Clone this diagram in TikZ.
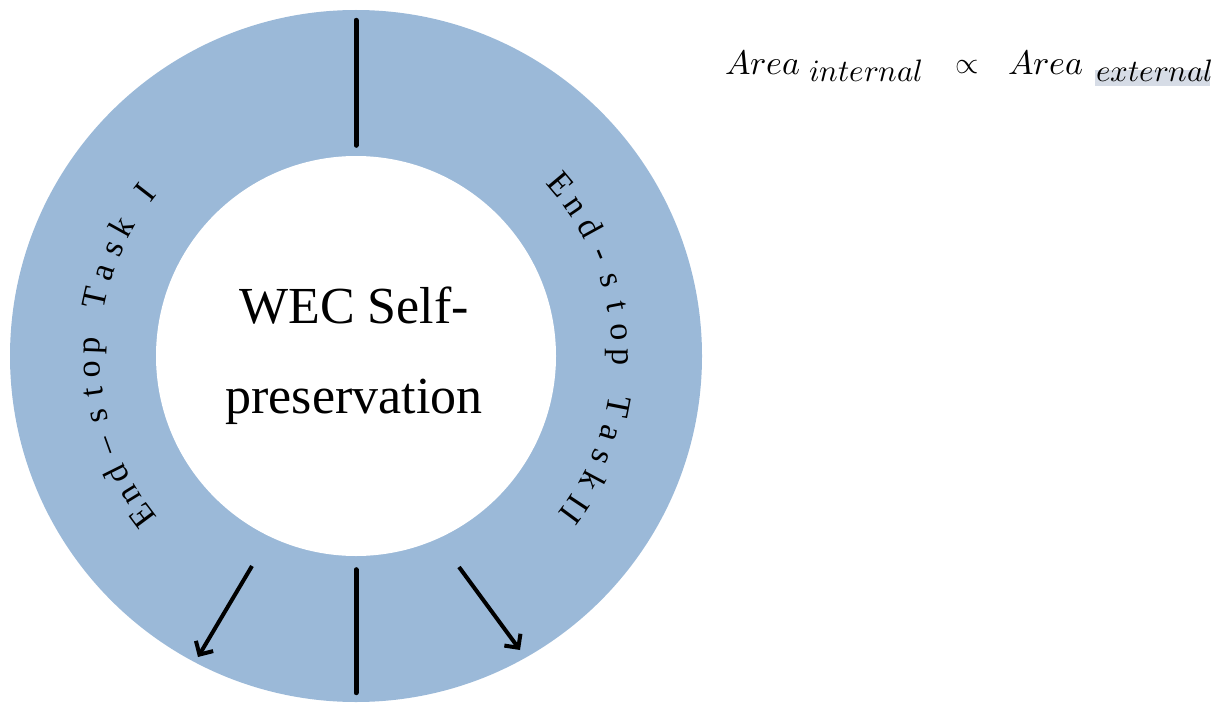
\documentclass[tikz,border=0pt]{standalone}
\usepackage{fontspec}
\usepackage{unicode-math}
\setmainfont{Liberation Serif}
\usetikzlibrary{arrows.meta}
\definecolor{ringblue}{RGB}{155,185,216}
\definecolor{hlgray}{RGB}{214,220,230}
\begin{document}
\begin{tikzpicture}[x=1pt,y=1pt,
  divider/.style={line width=5pt, line cap=round},
  outarrow/.style={line width=4pt, -{Straight Barb[length=10pt,width=20pt]}},
  ringchar/.style={anchor=base, inner sep=0pt, font=\fontsize{34}{36}\selectfont},
  eqbig/.style={anchor=base west, inner sep=0pt, font=\fontsize{34}{40}\selectfont},
  eqsub/.style={anchor=base west, inner sep=0pt, font=\fontsize{31}{36}\selectfont},
  centertext/.style={anchor=base, inner sep=0pt, font=\fontsize{52}{60}\selectfont}
]
\useasboundingbox (0,0) rectangle (1225,-706);
\coordinate (c) at (356,-356);

% ring: outer disc with the inner disc cut out in white
\node[circle, fill=ringblue, minimum size=692pt, inner sep=0pt] (outer) at (c) {};
\node[circle, fill=white, minimum size=400pt, inner sep=0pt] (inner) at (c) {};

% dividers between the two end-stop tasks
\draw[divider, shorten <=10.5pt, shorten >=10.5pt] (outer.north) -- (inner.north);
\draw[divider, shorten <=13.5pt, shorten >=9.5pt] (inner.south) -- (outer.south);

% outward arrows
\coordinate (la0) at (252,-566);
\coordinate (la1) at (198,-657);
\coordinate (ra0) at (459,-567);
\coordinate (ra1) at (520,-650);
\draw[outarrow] (la0) -- (la1);
\draw[outarrow] (ra0) -- (ra1);

% curved labels on the ring, one letter at a time, tops facing outwards
\foreach \ch/\ang [count=\i] in {E/216.8, n/211.6, d/206.5, –/199.8, s/193.2,
    t/187.8, o/183, p/177.8, T/167.5, a/161.6, s/156.2, k/151, I/142.2}
  \node[ringchar, rotate=\ang-90] (left\i) at ([shift={(\ang:256)}]c) {\ch};
\foreach \ch/\ang [count=\i] in {E/40, n/34.5, d/28.8, -/22.6, s/16.6, t/10.8,
    o/5.2, p/-0.3, T/-11, a/-17, s/-22.5, k/-28, I/-33.4, I/-36.6}
  \node[ringchar, rotate=\ang-90] (right\i) at ([shift={(\ang:256)}]c) {\ch};

% centre label
\node[centertext] (wec1) at (354,-323) {WEC Self-};
\node[centertext] (wec2) at (354,-413) {preservation};

% proportionality relation
\fill[hlgray] (1095,-70) rectangle (1210,-86);
\node[eqbig] (areaA) at (725,-75) {$Area$};
\node[eqsub] (subA) at (809,-82) {$internal$};
\node[eqbig, font=\fontsize{30}{36}\selectfont] (prop) at (955,-74) {$\propto$};
\node[eqbig] (areaB) at (1008,-75) {$Area$};
\node[eqsub] (subB) at (1096,-82) {$external$};
\end{tikzpicture}
\end{document}
